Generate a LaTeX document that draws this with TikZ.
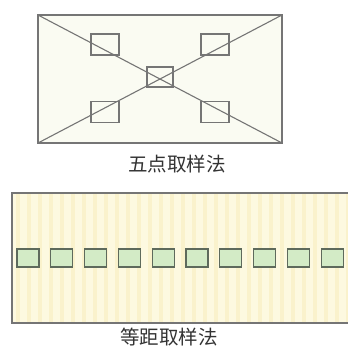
\documentclass[tikz,border=0pt]{standalone}
\usepackage{fontspec}
\newfontfamily\cjk{Noto Sans CJK SC}
\definecolor{linegray}{HTML}{757575}
\definecolor{sqedge}{HTML}{5E6A5C}
\definecolor{sqfill}{HTML}{D3EBC6}
\definecolor{topbg}{HTML}{FAFBF2}
\definecolor{botbg}{HTML}{FDF9E0}
\definecolor{stripe}{HTML}{FAF2CC}
\definecolor{txt}{HTML}{333333}
\begin{document}
\begin{tikzpicture}[x=1pt,y=-1pt,
  frame/.style={draw=linegray,line width=1.3pt},
  diag/.style={draw=linegray,line width=1.1pt},
  topsq/.style={draw=linegray,line width=1.3pt,fill=topbg,minimum width=28pt,minimum height=21pt,inner sep=0pt},
  botsq/.style={draw=sqedge,line width=1.3pt,fill=sqfill,minimum width=22pt,minimum height=18pt,inner sep=0pt},
  lbl/.style={font=\cjk\fontsize{19.5}{20}\selectfont,text=txt,inner sep=0pt}]
\useasboundingbox (0,0) rectangle (348,349);
\fill[white] (0,0) rectangle (348,349);
% top panel
\fill[topbg] (38,15) rectangle (282,143);
\node[topsq] (s1) at (105,44.5) {};
\node[topsq] (s2) at (215,44.5) {};
\node[topsq] (s4) at (105,112) {};
\node[topsq] (s5) at (215,112) {};
\node[topsq,minimum width=26pt,minimum height=20pt] (s3) at (160,77) {};
\coordinate (tl) at (38,15);
\coordinate (tr) at (282,15);
\coordinate (bl) at (38,143);
\coordinate (br) at (282,143);
\draw[diag] (tl) -- (br);
\draw[diag] (tr) -- (bl);
\draw[frame] (tl) rectangle (br);
\node[lbl] (t1) at (177,164) {五点取样法};
% bottom panel
\fill[botbg] (12,193) rectangle (348,323);
\foreach \i in {0,...,30} {
  \fill[stripe] (16+\i*11,194) rectangle (20+\i*11,322);
}
\draw[frame] (348,193) -- (12,193) -- (12,323) -- (348,323);
\foreach \i in {0,...,9} {
  \node[botsq] (b\i) at (28+\i*33.8,258) {};
}
\node[lbl] (t2) at (169,337.5) {等距取样法};
\end{tikzpicture}
\end{document}
